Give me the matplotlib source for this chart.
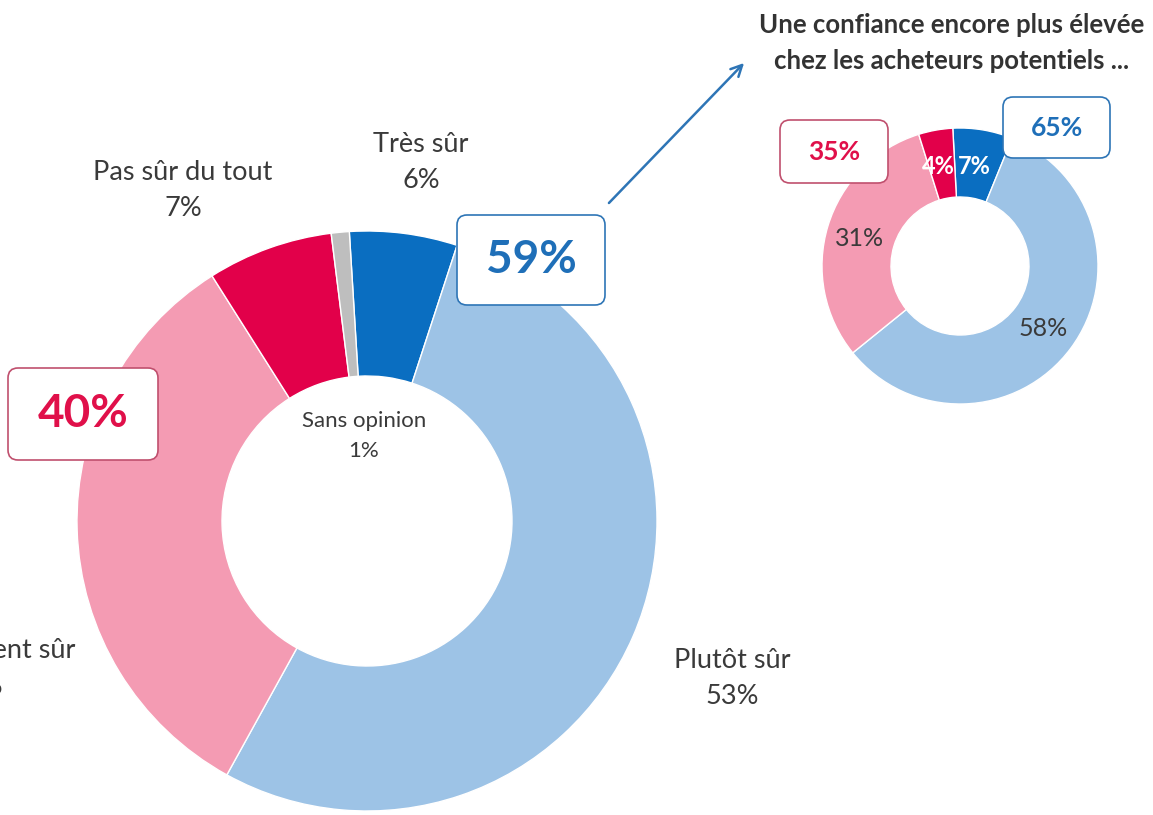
import matplotlib.pyplot as plt
from matplotlib.patches import FancyBboxPatch

plt.rcParams['font.family'] = ['Lato', 'DejaVu Sans']

# grand donut : ensemble
labels_main = ['Très sûr', 'Plutôt sûr', 'Pas vraiment sûr', 'Pas sûr du tout', 'Sans opinion']
values_main = [6, 53, 33, 7, 1]
# petit donut : acheteurs potentiels
labels_small = ['Très sûr', 'Plutôt sûr', 'Pas vraiment sûr', 'Pas sûr du tout']
values_small = [7, 58, 31, 4]
total_sur = [59, 65]
total_pas_sur = [40, 35]

colors = ['#0A6EC1', '#9DC3E6', '#F49BB3', '#E2004A', '#BEBEBE']
dark = '#3A3A3A'
blue_txt = '#1F6FB8'
red_txt = '#E0104A'

W, H = 1153, 815
fig = plt.figure(figsize=(W / 100, H / 100), dpi=100)
ax = fig.add_axes([0, 0, 1, 1])


def Y(y):
    # coordonnées image -> coordonnées axe
    return H - y


ax.pie(values_main, colors=colors, startangle=93.5, counterclock=False,
       center=(367, Y(521)), radius=290,
       wedgeprops=dict(width=145, edgecolor='white', linewidth=1))
ax.pie(values_small, colors=colors[:4], startangle=93, counterclock=False,
       center=(960, Y(266)), radius=138,
       wedgeprops=dict(width=69, edgecolor='white', linewidth=1))

ax.set_xlim(0, W)
ax.set_ylim(0, H)
ax.set_aspect('equal')
ax.axis('off')

# étiquettes du grand donut
lab = dict(ha='center', va='center', fontsize=19.5, color=dark, linespacing=1.55)
ax.text(421, Y(162), f'{labels_main[0]}\n{values_main[0]}%', **lab)
ax.text(732, Y(679), f'{labels_main[1]}\n{values_main[1]}%', **lab)
ax.text(-23, Y(669), f'{labels_main[2]}\n{values_main[2]}%', **lab)
ax.text(183, Y(190), f'{labels_main[3]}\n{values_main[3]}%', **lab)
ax.text(364, Y(436), f'{labels_main[4]}\n{values_main[4]}%', ha='center', va='center',
        fontsize=16, color=dark, linespacing=1.65)


def boxed(x0, y0, w, h, txt, col, edge, size):
    box = FancyBboxPatch((x0, Y(y0 + h)), w, h, boxstyle='round,pad=0,rounding_size=10',
                         facecolor='white', edgecolor=edge, linewidth=1.2)
    ax.add_patch(box)
    ax.text(x0 + w / 2, Y(y0 + h / 2), txt, ha='center', va='center',
            fontsize=size, color=col, fontweight='bold')


boxed(457, 215, 148, 90, f'{total_sur[0]}%', blue_txt, '#2E75B6', 33)
boxed(8, 368, 150, 92, f'{total_pas_sur[0]}%', red_txt, '#C0506E', 33)
boxed(1003, 97, 107, 61, f'{total_sur[1]}%', blue_txt, '#2E75B6', 19)
boxed(780, 120, 108, 63, f'{total_pas_sur[1]}%', red_txt, '#C0506E', 19)

# étiquettes du petit donut
ax.text(860, Y(238), f'{values_small[2]}%', ha='center', va='center', fontsize=18, color=dark)
ax.text(1043, Y(328), f'{values_small[1]}%', ha='center', va='center', fontsize=18, color=dark)
ax.text(938, Y(167), f'{values_small[3]}%', ha='center', va='center', fontsize=17,
        color='white', fontweight='bold')
ax.text(974, Y(167), f'{values_small[0]}%', ha='center', va='center', fontsize=17,
        color='white', fontweight='bold')

ax.text(952, Y(43), 'Une confiance encore plus élevée\nchez les acheteurs potentiels ...',
        ha='center', va='center', fontsize=18.5, fontweight='bold', color='#333333',
        linespacing=1.6)

ax.annotate('', xy=(746, Y(61)), xytext=(607, Y(205)),
            arrowprops=dict(arrowstyle='->', color='#2E75B6', lw=1.8, mutation_scale=20))

fig.savefig('out.png', dpi=100)
